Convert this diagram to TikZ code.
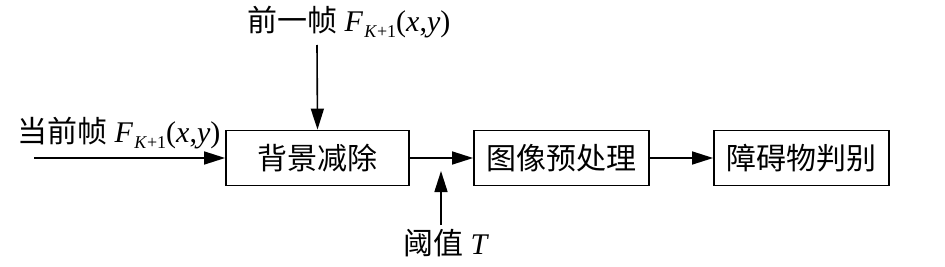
\documentclass[tikz,border=0pt]{standalone}
\usepackage{fontspec}
\setmainfont{Liberation Serif}
\newfontfamily\cjk{Noto Sans CJK SC}
\usetikzlibrary{arrows.meta}
\newcommand{\Fk}{\textit{F}\kern1pt\raisebox{-6pt}{\fontsize{18}{20}\selectfont\textit{K}+1}(\textit{x},\textit{y})}
\begin{document}
\begin{tikzpicture}[x=1pt,y=-1pt,
  blk/.style={draw,line width=1.8pt,minimum height=55pt,inner sep=0pt,font=\cjk\fontsize{30}{34}\selectfont},
  lbl/.style={inner sep=0pt,anchor=west,font=\fontsize{30}{34}\selectfont},
  arr/.style={line width=1.6pt,-{Triangle[length=21pt,width=13pt]}}]
\useasboundingbox (0,0) rectangle (945,267);
\node[blk,minimum width=183pt] (b1) at (317.5,158) {背景减除};
\node[blk,minimum width=175pt] (b2) at (561.5,158) {图像预处理};
\node[blk,minimum width=175pt] (b3) at (801.5,158) {障碍物判别};
\coordinate (in) at (34,158);
\coordinate (top) at (317,45);
\coordinate (thr) at (441,225);
\coordinate (thrend) at (441,171);
\node[lbl] (t1) at (247,22) {{\cjk 前一帧} \Fk};
\node[lbl] (t2) at (17,133) {{\cjk 当前帧} \Fk};
\node[lbl] (t3) at (403,243) {{\cjk 阈值} \textit{T}};
\draw[arr] (in) -- (b1.west);
\draw[arr] (top) -- (b1.north);
\draw[arr] (b1.east) -- (b2.west);
\draw[arr] (b2.east) -- (b3.west);
\draw[arr] (thr) -- (thrend);
\end{tikzpicture}
\end{document}
